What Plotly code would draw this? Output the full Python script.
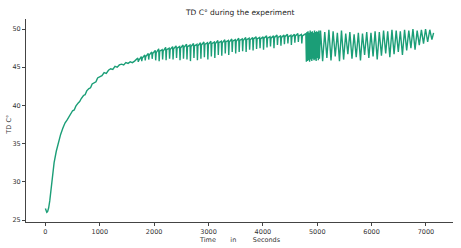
import plotly.graph_objects as go

# Warm-up segment
rise_t = [0,10,25,40,60,80,100,130,160,200,240,280,320,360,400,430,460,500,530,560,
          600,630,660,700,730,760,800,830,860,900,930,960,1000,1040,1080,1120,1160,1200,1240,1280,
          1320,1360,1400,1440,1480,1520,1560,1600,1640]
rise_v = [26.5,26.2,26.0,26.1,26.6,27.5,28.8,30.6,32.5,34.0,35.2,36.2,37.0,37.7,38.1,38.5,38.7,39.3,39.4,39.9,
          40.3,40.5,40.9,41.3,41.4,41.9,42.2,42.3,42.8,43.0,43.1,43.6,43.7,43.9,44.3,44.2,44.6,44.8,44.7,45.1,
          45.0,45.3,45.4,45.3,45.6,45.5,45.7,45.6,45.8]

# Comb-like segment: peak, dip and recovery of each tooth
saw_peak_t = [1700,1764,1828,1892,1956,2020,2084,2148,2212,2276,
              2340,2404,2468,2532,2596,2660,2724,2788,2852,2916,
              2980,3044,3108,3172,3236,3300,3364,3428,3492,3556,
              3620,3684,3748,3812,3876,3940,4004,4068,4132,4196,
              4260,4324,4388,4452,4516,4580,4644,4708]
saw_peak_v = [46.2,46.4,46.6,46.8,47.0,47.2,47.4,47.3,47.6,47.5,
              47.7,47.8,47.7,47.9,48.0,47.9,48.1,48.0,48.2,48.3,
              48.2,48.4,48.3,48.5,48.4,48.6,48.5,48.7,48.6,48.8,
              48.7,48.9,48.8,48.9,49.0,48.9,49.0,49.1,49.0,49.1,
              49.2,49.1,49.2,49.3,49.2,49.3,49.4,49.3]
saw_dip_t = [1708,1772,1836,1900,1964,2028,2092,2156,2220,2284,
             2348,2412,2476,2540,2604,2668,2732,2796,2860,2924,
             2988,3052,3116,3180,3244,3308,3372,3436,3500,3564,
             3628,3692,3756,3820,3884,3948,4012,4076,4140,4204,
             4268,4332,4396,4460,4524,4588,4652,4716]
saw_dip_v = [45.7,45.8,45.9,46.0,46.1,45.9,45.8,46.0,45.9,46.1,
             46.0,46.2,45.9,46.1,46.0,45.8,46.2,45.9,46.1,46.3,
             46.0,46.4,46.2,46.6,46.5,46.8,46.6,47.0,46.8,47.0,
             47.1,47.0,47.3,47.2,47.4,47.5,47.3,47.6,47.7,47.5,
             47.9,47.8,48.0,48.1,47.9,48.2,48.3,48.1]
saw_rec_t = [1718,1782,1846,1910,1974,2038,2102,2166,2230,2294,
             2358,2422,2486,2550,2614,2678,2742,2806,2870,2934,
             2998,3062,3126,3190,3254,3318,3382,3446,3510,3574,
             3638,3702,3766,3830,3894,3958,4022,4086,4150,4214,
             4278,4342,4406,4470,4534,4598,4662,4726]
saw_rec_v = [45.9,46.2,46.4,46.6,46.8,46.9,47.1,47.1,47.3,47.3,
             47.4,47.5,47.5,47.6,47.7,47.7,47.8,47.8,47.9,48.0,
             48.0,48.1,48.1,48.2,48.2,48.3,48.3,48.4,48.4,48.5,
             48.5,48.6,48.6,48.7,48.7,48.7,48.8,48.8,48.8,48.9,
             48.9,48.9,49.0,49.0,49.0,49.1,49.1,49.1]

# Rapid switching block
dense_t = [4790,4800,4810,4820,4830,4840,4850,4860,4870,4880,4890,4900,4910,4920,4930,4940,4950,4960,4970,4980,
           4990,5000,5010,5020,5030,5040,5050]
dense_v = [49.4,45.7,49.6,45.8,49.7,45.9,49.5,45.7,49.8,46.0,49.6,45.8,49.7,46.1,49.5,45.9,49.8,46.0,49.6,45.8,
           49.7,46.2,49.6,45.9,49.8,46.1,49.6]

# Oscillating segment: tops and bottoms
osc_top_t = [5060,5138,5214,5292,5370,5446,5524,5600,5678,5756,
             5832,5910,5988,6064,6142,6220,6296,6374,6452,6528,
             6606,6684,6760,6838,6916,6992,7070]
osc_top_v = [49.8,49.6,49.9,49.7,49.5,49.8,49.4,49.6,49.3,49.5,
             49.4,49.6,49.5,49.7,49.6,49.8,49.7,49.9,49.8,49.7,
             49.9,49.8,50.0,49.8,49.9,50.0,49.9]
osc_bot_t = [5099,5177,5253,5331,5409,5485,5563,5639,5717,5795,
             5871,5949,6027,6103,6181,6259,6335,6413,6491,6567,
             6645,6723,6799,6877,6955,7031,7109]
osc_bot_v = [45.8,46.2,45.9,46.4,45.8,46.0,46.7,46.1,46.3,45.9,
             46.6,46.2,46.4,46.0,46.5,46.8,46.3,46.7,47.0,46.6,
             47.2,47.5,47.3,47.9,48.1,48.3,48.6]
end_t = [7140]
end_v = [49.5]

x_ticks = [0, 1000, 2000, 3000, 4000, 5000, 6000, 7000]
y_ticks = [25, 30, 35, 40, 45, 50]

assert len(rise_t) == len(rise_v)
assert len(saw_peak_t) == len(saw_peak_v) == len(saw_dip_t) == len(saw_dip_v) == len(saw_rec_t) == len(saw_rec_v)
assert len(dense_t) == len(dense_v)
assert len(osc_top_t) == len(osc_top_v) == len(osc_bot_t) == len(osc_bot_v)

t_all = list(rise_t)
v_all = list(rise_v)
for i in range(len(saw_peak_t)):
    t_all += [saw_peak_t[i], saw_dip_t[i], saw_rec_t[i]]
    v_all += [saw_peak_v[i], saw_dip_v[i], saw_rec_v[i]]
t_all += dense_t
v_all += dense_v
for a, b, c, d in zip(osc_top_t, osc_top_v, osc_bot_t, osc_bot_v):
    t_all += [a, c]
    v_all += [b, d]
t_all += end_t
v_all += end_v

fig = go.Figure()
fig.add_trace(go.Scatter(x=t_all, y=v_all, mode="lines",
                         line=dict(color="#1b9e77", width=1.4), showlegend=False))

font_family = "DejaVu Sans, Arial, sans-serif"
fig.update_layout(
    width=461, height=248,
    margin=dict(l=26, r=8, t=19, b=26),
    paper_bgcolor="white", plot_bgcolor="white",
    font=dict(family=font_family, size=6.5, color="#333"),
    annotations=[
        dict(text="TD C\u00b0 during the experiment", xref="paper", yref="paper",
             x=0.5, y=1.03, xanchor="center", yanchor="middle", showarrow=False,
             font=dict(size=7.5, color="#222")),
        dict(text="Time\u00a0\u00a0\u00a0\u00a0\u00a0\u00a0\u00a0in\u00a0\u00a0\u00a0\u00a0\u00a0\u00a0\u00a0\u00a0Seconds",
             xref="paper", yref="paper", x=0.5, y=-0.088, xanchor="center", yanchor="middle",
             showarrow=False, font=dict(size=6.5, color="#333")),
        dict(text="TD C\u00b0", xref="paper", yref="paper", x=-0.042, y=0.48, xanchor="center",
             yanchor="middle", textangle=-90, showarrow=False, font=dict(size=6.5, color="#333")),
    ],
)
fig.update_xaxes(range=[-357, 7497], tickvals=x_ticks, ticktext=[str(v) for v in x_ticks],
                 showline=True, linecolor="#444", linewidth=1, ticks="outside", ticklen=3,
                 tickcolor="#444", showgrid=False, zeroline=False, automargin=False)
fig.update_yaxes(range=[24.74, 51.31], tickvals=y_ticks, ticktext=[str(v) for v in y_ticks],
                 showline=True, linecolor="#444", linewidth=1, ticks="outside", ticklen=3,
                 tickcolor="#444", showgrid=False, zeroline=False, automargin=False)

fig.write_html("out.html", config={"displayModeBar": False},
               post_script="document.body.style.margin='0';")
